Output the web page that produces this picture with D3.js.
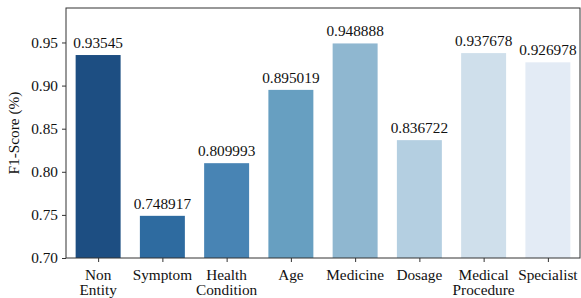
<!DOCTYPE html>
<html>
<head>
<meta charset="utf-8">
<script src="https://cdn.jsdelivr.net/npm/d3@7"></script>
<style>
  body { margin: 0; background: #fff; }
  svg { display: block; }
  text { font-family: "Liberation Serif", "Times New Roman", serif; fill: #111; }
</style>
</head>
<body>
<script>
// Data
var categories = [["Non", "Entity"], ["Symptom"], ["Health", "Condition"], ["Age"], ["Medicine"], ["Dosage"], ["Medical", "Procedure"], ["Specialist"]];
var scores     = [0.93545, 0.748917, 0.809993, 0.895019, 0.948888, 0.836722, 0.937678, 0.926978];
var labels     = ["0.93545", "0.748917", "0.809993", "0.895019", "0.948888", "0.836722", "0.937678", "0.926978"];
var barColors  = ["#1d4e82", "#2e6ba0", "#4884b4", "#679fc1", "#8fb7d0", "#b4cfe1", "#cfdfeb", "#e3ebf5"];
var yTicks     = [0.70, 0.75, 0.80, 0.85, 0.90, 0.95];

// Layout
var width = 581, height = 298,
    margin = {top: 8, right: 1, bottom: 40, left: 66},
    fontSize = 15.3;

var svg = d3.select("body").append("svg")
    .attr("width", width)
    .attr("height", height);

var x = d3.scaleLinear()
    .domain([-0.5, categories.length - 0.5])
    .range([margin.left, width - margin.right]);

var y = d3.scaleLinear()
    .domain([0.70, 0.99])
    .range([height - margin.bottom, margin.top]);

var barWidth = (x(1) - x(0)) * 0.7;

// Bars
svg.selectAll("rect.bar")
    .data(scores)
    .enter().append("rect")
    .attr("class", "bar")
    .attr("x", function (d, i) { return x(i) - barWidth / 2; })
    .attr("y", function (d) { return y(d); })
    .attr("width", barWidth)
    .attr("height", function (d) { return y(0.70) - y(d); })
    .attr("fill", function (d, i) { return barColors[i]; });

// Value labels
svg.selectAll("text.value")
    .data(scores)
    .enter().append("text")
    .attr("class", "value")
    .attr("x", function (d, i) { return x(i); })
    .attr("y", function (d) { return y(d) - 7; })
    .attr("text-anchor", "middle")
    .style("font-size", fontSize + "px")
    .text(function (d, i) { return labels[i]; });

// Frame
svg.append("rect")
    .attr("x", margin.left)
    .attr("y", margin.top)
    .attr("width", width - margin.right - margin.left)
    .attr("height", height - margin.bottom - margin.top)
    .attr("fill", "none")
    .attr("stroke", "#333")
    .attr("stroke-width", 1);

// Y axis
var yAxis = svg.append("g")
    .attr("transform", "translate(" + margin.left + ",0)")
    .call(d3.axisLeft(y).tickValues(yTicks).tickFormat(d3.format(".2f")).tickSize(4).tickPadding(4));
yAxis.select(".domain").remove();
yAxis.selectAll("line").attr("stroke", "#333");
yAxis.selectAll("text")
    .style("font-family", "Liberation Serif, serif")
    .style("font-size", fontSize + "px")
    .attr("fill", "#111");

// X axis
var xAxis = svg.append("g")
    .attr("transform", "translate(0," + y(0.70) + ")")
    .call(d3.axisBottom(x).tickValues(d3.range(categories.length)).tickFormat("").tickSize(4));
xAxis.select(".domain").remove();
xAxis.selectAll("line").attr("stroke", "#333");

var catLabels = svg.selectAll("text.cat")
    .data(categories)
    .enter().append("text")
    .attr("class", "cat")
    .attr("x", function (d, i) { return x(i); })
    .attr("y", y(0.70) + 22)
    .attr("text-anchor", "middle")
    .style("font-size", fontSize + "px");
catLabels.selectAll("tspan")
    .data(function (d) { return d; })
    .enter().append("tspan")
    .attr("x", function () { return d3.select(this.parentNode).attr("x"); })
    .attr("dy", function (d, j) { return j === 0 ? 0 : 15; })
    .text(function (d) { return d; });

// Y axis title
svg.append("text")
    .attr("transform", "translate(19," + ((margin.top + height - margin.bottom) / 2) + ") rotate(-90)")
    .attr("text-anchor", "middle")
    .style("font-size", fontSize + "px")
    .text("F1-Score (%)");
</script>
</body>
</html>
